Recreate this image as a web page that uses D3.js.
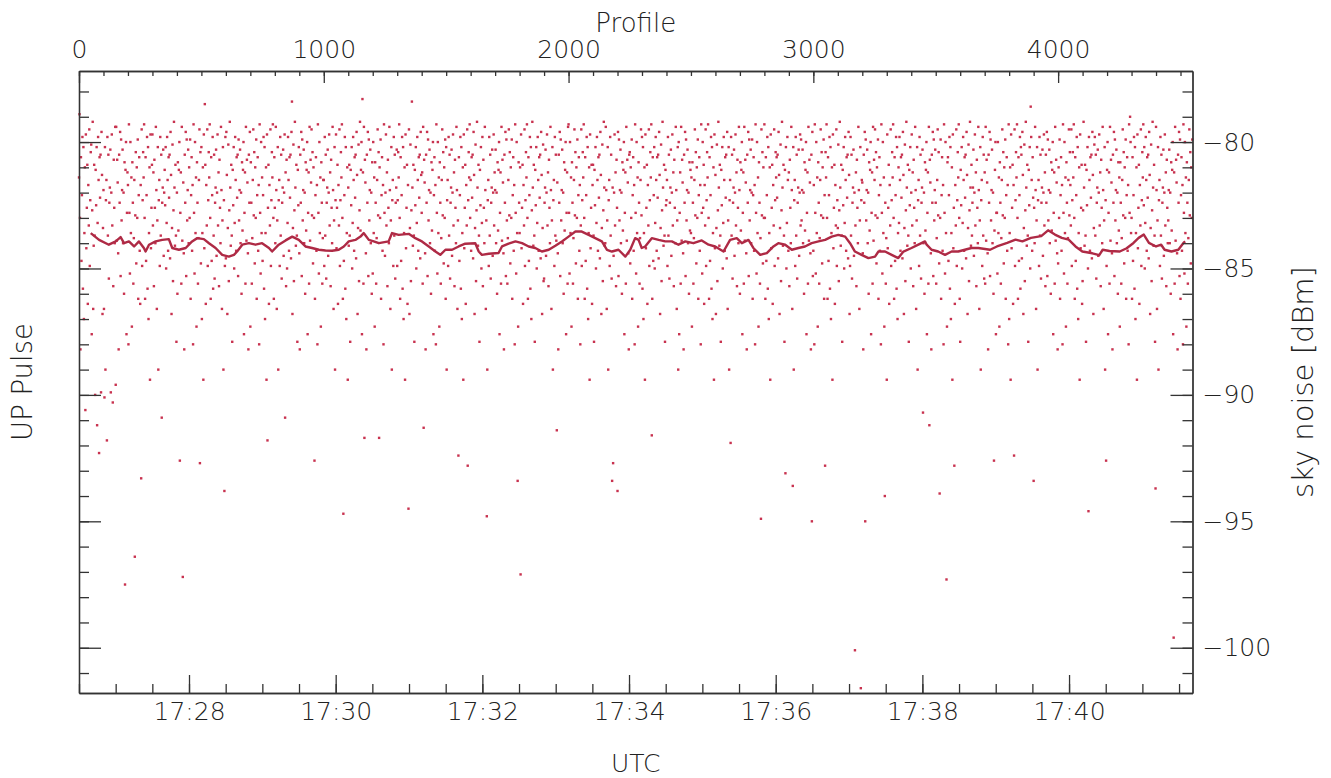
<!DOCTYPE html>
<html>
<head>
<meta charset="utf-8">
<script src="https://cdn.jsdelivr.net/npm/d3@7"></script>
<style>
  html, body { margin: 0; padding: 0; background: #fff; }
  svg text { font-family: "DejaVu Sans", "Liberation Sans", sans-serif; font-weight: 200; fill: #222; }
</style>
</head>
<body>
<svg id="chart" width="1331" height="778"></svg>
<script>
// ---------------- data ----------------
const profileStep = 2; // one sample shown every 2 profiles
const skyNoise = [
-81.4,-78.9,-83.0,-88.2,-80.6,-84.7,-82.1,-79.8,-85.8,-80.2,-87.0,-83.6,-81.0,-90.6,-79.7,-84.2,-82.6,-80.9,-86.4,-81.7,-83.3,-79.5,-84.9,-82.3,-80.4,
-80.1,-87.6,-82.7,-79.2,-86.6,-84.1,-80.9,-83.7,-90.0,-81.1,-82.5,-80.2,-91.2,-83.2,-79.8,-81.5,-92.3,-80.6,-82.2,-80.5,-89.9,-79.6,-81.3,-86.8,-83.4,
-81.9,-86.6,-90.1,-80.2,-89.0,-82.3,-81.5,-91.8,-79.8,-83.7,-80.5,-85.4,-82.4,-81.8,-80.3,-89.9,-82.0,-79.7,-83.3,-90.3,-85.7,-80.7,-82.6,-84.0,-79.4,
-89.6,-79.4,-83.9,-80.7,-81.6,-84.4,-88.2,-80.5,-82.4,-79.6,-85.3,-79.9,-83.1,-81.9,-80.3,-84.0,-82.0,-86.0,-80.8,-97.5,-81.1,-80.0,-87.6,-82.8,-81.2,
-81.7,-88.0,-79.3,-82.8,-85.2,-80.0,-83.6,-81.4,-87.3,-80.8,-82.4,-85.6,-83.8,-81.5,-96.4,-82.9,-80.4,-84.8,-81.0,-83.0,-79.9,-86.2,-82.1,-80.6,-84.3,
-86.4,-81.7,-93.3,-79.5,-84.9,-82.3,-80.4,-81.4,-79.3,-83.0,-86.2,-80.6,-84.7,-82.1,-79.8,-85.8,-80.2,-87.0,-83.6,-81.0,-89.4,-79.7,-84.2,-82.6,-80.9,
-79.7,-83.3,-81.2,-85.7,-80.7,-82.6,-84.0,-79.4,-81.9,-86.6,-83.1,-80.2,-89.0,-82.3,-81.5,-84.9,-79.8,-83.7,-80.5,-90.9,-82.4,-81.8,-80.3,-84.5,-82.0,
-81.1,-82.5,-80.2,-85.0,-83.2,-79.8,-81.5,-84.3,-80.6,-82.2,-80.5,-84.6,-79.6,-81.3,-86.8,-83.4,-80.1,-85.5,-82.7,-79.2,-81.8,-84.1,-80.9,-83.7,-87.9,
-82.0,-86.0,-80.8,-83.5,-81.1,-80.0,-92.6,-82.8,-81.2,-85.6,-79.4,-83.9,-97.2,-81.6,-84.4,-88.2,-80.5,-82.4,-79.6,-85.3,-79.9,-83.1,-81.9,-80.3,-84.0,
-81.0,-83.0,-79.9,-86.2,-82.1,-80.6,-84.3,-81.7,-88.0,-79.3,-82.8,-85.2,-80.0,-83.6,-81.4,-87.3,-80.8,-82.4,-85.6,-83.8,-81.5,-79.5,-92.7,-80.4,-84.8,
-80.2,-87.0,-83.6,-81.0,-89.4,-79.7,-84.2,-78.5,-80.9,-86.4,-81.7,-83.3,-79.5,-84.9,-82.3,-80.4,-81.4,-79.3,-83.0,-86.2,-80.6,-84.7,-82.1,-79.8,-85.8,
-83.7,-80.5,-85.4,-82.4,-81.8,-80.3,-84.5,-82.0,-79.7,-83.3,-81.2,-85.7,-80.7,-82.6,-84.0,-79.4,-81.9,-86.6,-83.1,-80.2,-89.0,-82.3,-93.8,-84.9,-79.8,
-84.6,-79.6,-81.3,-86.8,-83.4,-80.1,-85.5,-82.7,-79.2,-81.8,-84.1,-80.9,-83.7,-87.9,-81.1,-82.5,-80.2,-85.0,-83.2,-79.8,-81.5,-84.3,-80.6,-82.2,-80.5,
-85.3,-79.9,-83.1,-81.9,-80.3,-84.0,-82.0,-86.0,-80.8,-83.5,-81.1,-80.0,-87.6,-82.8,-81.2,-85.6,-79.4,-83.9,-80.7,-81.6,-84.4,-88.2,-80.5,-82.4,-79.6,
-87.3,-80.8,-82.4,-85.6,-83.8,-81.5,-79.5,-82.9,-80.4,-84.8,-81.0,-83.0,-79.9,-86.2,-82.1,-80.6,-84.3,-81.7,-88.0,-79.3,-82.8,-85.2,-80.0,-83.6,-81.4,
-84.7,-82.1,-79.8,-85.8,-80.2,-87.0,-83.6,-81.0,-89.4,-79.7,-91.8,-82.6,-80.9,-86.4,-81.7,-83.3,-79.5,-84.9,-82.3,-80.4,-81.4,-79.3,-83.0,-86.2,-80.6,
-82.6,-84.0,-79.4,-81.9,-86.6,-83.1,-80.2,-89.0,-82.3,-81.5,-84.9,-79.8,-83.7,-80.5,-85.4,-82.4,-81.8,-80.3,-84.5,-82.0,-79.7,-90.9,-81.2,-85.7,-80.7,
-85.0,-83.2,-79.8,-81.5,-84.3,-80.6,-82.2,-80.5,-84.6,-79.6,-78.4,-86.8,-83.4,-80.1,-85.5,-82.7,-79.2,-81.8,-84.1,-80.9,-83.7,-87.9,-81.1,-82.5,-80.2,
-84.4,-88.2,-80.5,-82.4,-79.6,-85.3,-79.9,-83.1,-81.9,-80.3,-84.0,-82.0,-86.0,-80.8,-83.5,-81.1,-80.0,-87.6,-82.8,-81.2,-85.6,-79.4,-83.9,-80.7,-81.6,
-79.5,-82.9,-80.4,-84.8,-81.0,-83.0,-92.6,-86.2,-82.1,-80.6,-84.3,-81.7,-88.0,-79.3,-82.8,-85.2,-80.0,-83.6,-81.4,-87.3,-80.8,-82.4,-85.6,-83.8,-81.5,
-81.5,-84.9,-79.8,-83.7,-80.5,-85.4,-82.4,-81.8,-80.3,-84.5,-82.0,-79.7,-83.3,-81.2,-85.7,-80.7,-82.6,-84.0,-79.4,-81.9,-86.6,-83.1,-80.2,-89.0,-82.3,
-79.7,-84.2,-82.6,-80.9,-86.4,-81.7,-83.3,-79.5,-84.9,-82.3,-80.4,-81.4,-79.3,-83.0,-86.2,-94.7,-84.7,-82.1,-79.8,-85.8,-80.2,-87.0,-83.6,-81.0,-89.4,
-81.8,-84.1,-80.9,-83.7,-87.9,-81.1,-82.5,-80.2,-85.0,-83.2,-79.8,-81.5,-84.3,-80.6,-82.2,-80.5,-84.6,-79.6,-81.3,-86.8,-83.4,-80.1,-85.5,-82.7,-79.2,
-83.5,-81.1,-80.0,-87.6,-78.3,-81.2,-85.6,-79.4,-91.7,-80.7,-81.6,-84.4,-88.2,-80.5,-82.4,-79.6,-85.3,-79.9,-83.1,-81.9,-80.3,-84.0,-82.0,-86.0,-80.8,
-85.2,-80.0,-83.6,-81.4,-87.3,-80.8,-82.4,-85.6,-83.8,-81.5,-79.5,-82.9,-80.4,-91.7,-81.0,-83.0,-79.9,-86.2,-82.1,-80.6,-84.3,-81.7,-88.0,-79.3,-82.8,
-84.5,-82.0,-79.7,-83.3,-81.2,-85.7,-80.7,-82.6,-84.0,-79.4,-81.9,-86.6,-83.1,-80.2,-89.0,-82.3,-81.5,-84.9,-79.8,-83.7,-80.5,-85.4,-82.4,-81.8,-80.3,
-84.9,-82.3,-80.4,-81.4,-79.3,-83.0,-86.2,-80.6,-84.7,-82.1,-79.8,-85.8,-80.2,-87.0,-83.6,-81.0,-89.4,-79.7,-84.2,-82.6,-80.9,-86.4,-81.7,-94.5,-79.5,
-86.8,-83.4,-80.1,-85.5,-82.7,-78.4,-81.8,-84.1,-80.9,-83.7,-87.9,-81.1,-82.5,-80.2,-85.0,-83.2,-79.8,-81.5,-84.3,-80.6,-82.2,-80.5,-84.6,-79.6,-81.3,
-82.8,-81.2,-85.6,-79.4,-91.3,-80.7,-81.6,-84.4,-88.2,-80.5,-82.4,-79.6,-85.3,-79.9,-83.1,-81.9,-80.3,-84.0,-82.0,-86.0,-80.8,-83.5,-81.1,-80.0,-87.6,
-82.1,-80.6,-84.3,-81.7,-88.0,-79.3,-82.8,-85.2,-80.0,-83.6,-81.4,-87.3,-80.8,-82.4,-85.6,-83.8,-81.5,-79.5,-82.9,-80.4,-84.8,-81.0,-83.0,-79.9,-86.2,
-80.2,-89.0,-82.3,-81.5,-84.9,-79.8,-83.7,-80.5,-85.4,-82.4,-81.8,-80.3,-84.5,-82.0,-79.7,-83.3,-81.2,-85.7,-80.7,-82.6,-84.0,-79.4,-81.9,-86.6,-83.1,
-92.4,-80.6,-84.7,-82.1,-79.8,-85.8,-80.2,-87.0,-83.6,-81.0,-89.4,-79.7,-84.2,-82.6,-80.9,-86.4,-81.7,-83.3,-79.5,-92.8,-82.3,-80.4,-81.4,-79.3,-83.0,
-81.5,-84.3,-80.6,-82.2,-80.5,-84.6,-79.6,-81.3,-86.8,-83.4,-80.1,-85.5,-82.7,-79.2,-81.8,-84.1,-80.9,-83.7,-87.9,-81.1,-82.5,-80.2,-85.0,-83.2,-79.8,
-85.7,-80.7,-82.6,-84.0,-79.4,-81.9,-86.6,-83.1,-94.8,-89.0,-82.3,-81.5,-84.9,-79.8,-83.7,-80.5,-85.4,-82.4,-81.8,-80.3,-84.5,-82.0,-79.7,-83.3,-81.2,
-81.9,-80.3,-84.0,-82.0,-86.0,-80.8,-83.5,-81.1,-80.0,-87.6,-82.8,-81.2,-85.6,-79.4,-83.9,-80.7,-81.6,-84.4,-88.2,-80.5,-82.4,-79.6,-85.3,-79.9,-83.1,
-85.6,-83.8,-81.5,-79.5,-82.9,-80.4,-84.8,-81.0,-83.0,-79.9,-86.2,-82.1,-80.6,-84.3,-81.7,-88.0,-79.3,-82.8,-85.2,-80.0,-83.6,-93.4,-87.3,-80.8,-82.4,
-83.6,-81.0,-97.1,-79.7,-84.2,-82.6,-80.9,-86.4,-81.7,-83.3,-79.5,-84.9,-82.3,-80.4,-81.4,-79.3,-83.0,-86.2,-80.6,-84.7,-82.1,-79.8,-85.8,-80.2,-87.0,
-82.7,-79.2,-81.8,-84.1,-80.9,-83.7,-87.9,-81.1,-82.5,-80.2,-85.0,-83.2,-79.8,-81.5,-84.3,-80.6,-82.2,-80.5,-84.6,-79.6,-81.3,-86.8,-83.4,-80.1,-85.5,
-85.4,-82.4,-81.8,-80.3,-84.5,-82.0,-79.7,-83.3,-81.2,-85.7,-80.7,-82.6,-84.0,-79.4,-81.9,-86.6,-83.1,-80.2,-89.0,-82.3,-81.5,-84.9,-79.8,-83.7,-80.5,
-83.9,-91.4,-81.6,-84.4,-88.2,-80.5,-82.4,-79.6,-85.3,-79.9,-83.1,-81.9,-80.3,-84.0,-82.0,-86.0,-80.8,-83.5,-81.1,-80.0,-87.6,-82.8,-81.2,-85.6,-79.4,
-79.3,-82.8,-85.2,-80.0,-83.6,-81.4,-87.3,-80.8,-82.4,-85.6,-83.8,-81.5,-79.5,-82.9,-80.4,-84.8,-81.0,-83.0,-79.9,-86.2,-82.1,-80.6,-84.3,-81.7,-88.0,
-83.3,-79.5,-84.9,-82.3,-80.4,-81.4,-79.3,-83.0,-86.2,-80.6,-84.7,-82.1,-79.8,-85.8,-80.2,-87.0,-83.6,-81.0,-89.4,-79.7,-84.2,-82.6,-80.9,-86.4,-81.7,
-80.9,-83.7,-87.9,-81.1,-82.5,-80.2,-85.0,-83.2,-79.8,-81.5,-84.3,-80.6,-82.2,-80.5,-84.6,-79.6,-81.3,-86.8,-83.4,-80.1,-85.5,-82.7,-79.2,-81.8,-84.1,
-84.0,-79.4,-81.9,-86.6,-83.1,-80.2,-89.0,-82.3,-81.5,-84.9,-79.8,-83.7,-80.5,-85.4,-93.4,-81.8,-92.7,-84.5,-82.0,-79.7,-83.3,-81.2,-85.7,-80.7,-82.6,
-93.8,-79.6,-85.3,-79.9,-83.1,-81.9,-80.3,-84.0,-82.0,-86.0,-80.8,-83.5,-81.1,-80.0,-87.6,-82.8,-81.2,-85.6,-79.4,-83.9,-80.7,-81.6,-84.4,-88.2,-80.5,
-80.4,-84.8,-81.0,-83.0,-79.9,-86.2,-82.1,-80.6,-84.3,-81.7,-88.0,-79.3,-82.8,-85.2,-80.0,-83.6,-81.4,-87.3,-80.8,-82.4,-85.6,-83.8,-81.5,-79.5,-82.9,
-79.8,-85.8,-80.2,-87.0,-83.6,-81.0,-89.4,-79.7,-84.2,-82.6,-80.9,-86.4,-81.7,-83.3,-79.5,-84.9,-82.3,-80.4,-81.4,-79.3,-91.6,-86.2,-80.6,-84.7,-82.1,
-80.2,-85.0,-83.2,-79.8,-81.5,-84.3,-80.6,-82.2,-80.5,-84.6,-79.6,-81.3,-86.8,-83.4,-80.1,-85.5,-82.7,-79.2,-81.8,-84.1,-80.9,-83.7,-87.9,-81.1,-82.5,
-82.3,-81.5,-84.9,-79.8,-83.7,-80.5,-85.4,-82.4,-81.8,-80.3,-84.5,-82.0,-79.7,-83.3,-81.2,-85.7,-80.7,-82.6,-84.0,-79.4,-81.9,-86.6,-83.1,-80.2,-89.0,
-80.0,-87.6,-82.8,-81.2,-85.6,-79.4,-83.9,-80.7,-81.6,-84.4,-88.2,-80.5,-82.4,-79.6,-85.3,-79.9,-83.1,-81.9,-80.3,-84.0,-82.0,-86.0,-80.8,-83.5,-81.1,
-83.6,-81.4,-87.3,-80.8,-82.4,-85.6,-83.8,-81.5,-79.5,-82.9,-80.4,-84.8,-81.0,-83.0,-79.9,-86.2,-82.1,-80.6,-84.3,-81.7,-88.0,-79.3,-82.8,-85.2,-80.0,
-82.6,-80.9,-86.4,-81.7,-83.3,-79.5,-84.9,-82.3,-80.4,-81.4,-79.3,-83.0,-86.2,-80.6,-84.7,-82.1,-79.8,-85.8,-80.2,-87.0,-83.6,-81.0,-89.4,-79.7,-84.2,
-81.3,-86.8,-83.4,-80.1,-85.5,-82.7,-79.2,-81.8,-84.1,-80.9,-83.7,-87.9,-81.1,-82.5,-80.2,-85.0,-83.2,-79.8,-81.5,-84.3,-80.6,-82.2,-80.5,-84.6,-79.6,
-86.6,-83.1,-80.2,-89.0,-82.3,-81.5,-91.9,-79.8,-83.7,-80.5,-85.4,-82.4,-81.8,-80.3,-84.5,-82.0,-79.7,-83.3,-81.2,-85.7,-80.7,-82.6,-84.0,-79.4,-81.9,
-86.0,-80.8,-83.5,-81.1,-80.0,-87.6,-82.8,-81.2,-85.6,-79.4,-83.9,-80.7,-81.6,-84.4,-88.2,-80.5,-82.4,-79.6,-85.3,-79.9,-83.1,-81.9,-80.3,-84.0,-82.0,
-79.9,-86.2,-82.1,-80.6,-84.3,-81.7,-88.0,-79.3,-82.8,-85.2,-80.0,-83.6,-81.4,-87.3,-80.8,-82.4,-85.6,-83.8,-94.9,-79.5,-82.9,-80.4,-84.8,-81.0,-83.0,
-79.3,-83.0,-86.2,-80.6,-84.7,-82.1,-79.8,-85.8,-80.2,-87.0,-83.6,-81.0,-89.4,-79.7,-84.2,-82.6,-80.9,-86.4,-81.7,-83.3,-79.5,-84.9,-82.3,-80.4,-81.4,
-80.6,-82.2,-80.5,-84.6,-79.6,-81.3,-86.8,-83.4,-80.1,-85.5,-82.7,-79.2,-81.8,-84.1,-80.9,-83.7,-87.9,-81.1,-93.1,-80.2,-85.0,-83.2,-79.8,-81.5,-84.3,
-81.2,-85.7,-80.7,-82.6,-84.0,-79.4,-81.9,-86.6,-93.6,-80.2,-89.0,-82.3,-81.5,-84.9,-79.8,-83.7,-80.5,-85.4,-82.4,-81.8,-80.3,-84.5,-82.0,-79.7,-83.3,
-79.9,-83.1,-81.9,-80.3,-84.0,-82.0,-86.0,-80.8,-83.5,-81.1,-80.0,-87.6,-82.8,-81.2,-85.6,-79.4,-83.9,-80.7,-81.6,-84.4,-88.2,-80.5,-95.0,-79.6,-85.3,
-84.3,-81.7,-88.0,-79.3,-82.8,-85.2,-80.0,-83.6,-81.4,-87.3,-80.8,-82.4,-85.6,-83.8,-81.5,-79.5,-82.9,-80.4,-84.8,-81.0,-83.0,-79.9,-86.2,-82.1,-92.8,
-80.4,-81.4,-79.3,-83.0,-86.2,-80.6,-84.7,-82.1,-79.8,-85.8,-80.2,-87.0,-83.6,-81.0,-89.4,-79.7,-84.2,-82.6,-80.9,-86.4,-81.7,-83.3,-79.5,-84.9,-82.3,
-83.4,-80.1,-85.5,-82.7,-79.2,-81.8,-84.1,-80.9,-83.7,-87.9,-81.1,-82.5,-80.2,-85.0,-83.2,-79.8,-81.5,-84.3,-80.6,-82.2,-80.5,-84.6,-79.6,-81.3,-86.8,
-84.9,-79.8,-83.7,-80.5,-85.4,-82.4,-81.8,-80.3,-84.5,-82.0,-100.1,-83.3,-81.2,-85.7,-80.7,-82.6,-84.0,-79.4,-81.9,-86.6,-83.1,-80.2,-101.6,-82.3,-81.5,
-81.6,-84.4,-88.2,-80.5,-82.4,-79.6,-95.0,-79.9,-83.1,-81.9,-80.3,-84.0,-82.0,-86.0,-80.8,-83.5,-81.1,-80.0,-87.6,-82.8,-81.2,-85.6,-79.4,-83.9,-80.7,
-81.5,-79.5,-82.9,-80.4,-84.8,-81.0,-83.0,-79.9,-86.2,-82.1,-80.6,-84.3,-81.7,-88.0,-79.3,-82.8,-85.2,-80.0,-83.6,-81.4,-87.3,-94.0,-82.4,-85.6,-83.8,
-89.4,-79.7,-84.2,-82.6,-80.9,-86.4,-81.7,-83.3,-79.5,-84.9,-82.3,-80.4,-81.4,-79.3,-83.0,-86.2,-80.6,-84.7,-82.1,-79.8,-85.8,-80.2,-87.0,-83.6,-81.0,
-83.2,-79.8,-81.5,-84.3,-80.6,-82.2,-80.5,-84.6,-79.6,-81.3,-86.8,-83.4,-80.1,-85.5,-82.7,-79.2,-81.8,-84.1,-80.9,-83.7,-87.9,-81.1,-82.5,-80.2,-85.0,
-82.0,-79.7,-83.3,-81.2,-85.7,-80.7,-82.6,-84.0,-79.4,-81.9,-86.6,-83.1,-80.2,-89.0,-82.3,-81.5,-84.9,-79.8,-83.7,-80.5,-85.4,-82.4,-81.8,-80.3,-90.7,
-84.0,-82.0,-86.0,-80.8,-83.5,-81.1,-80.0,-87.6,-82.8,-81.2,-85.6,-79.4,-91.2,-80.7,-81.6,-84.4,-88.2,-80.5,-82.4,-79.6,-85.3,-79.9,-83.1,-81.9,-80.3,
-82.4,-85.6,-83.8,-81.5,-79.5,-82.9,-80.4,-84.8,-93.9,-83.0,-79.9,-86.2,-82.1,-80.6,-84.3,-81.7,-88.0,-79.3,-82.8,-85.2,-80.0,-83.6,-97.3,-87.3,-80.8,
-80.6,-84.7,-82.1,-79.8,-85.8,-80.2,-87.0,-83.6,-81.0,-89.4,-79.7,-84.2,-82.6,-92.8,-86.4,-81.7,-83.3,-79.5,-84.9,-82.3,-80.4,-81.4,-79.3,-83.0,-86.2,
-87.9,-81.1,-82.5,-80.2,-85.0,-83.2,-79.8,-81.5,-84.3,-80.6,-82.2,-80.5,-84.6,-79.6,-81.3,-86.8,-83.4,-80.1,-85.5,-82.7,-79.2,-81.8,-84.1,-80.9,-83.7,
-82.4,-81.8,-80.3,-84.5,-82.0,-79.7,-83.3,-81.2,-85.7,-80.7,-82.6,-84.0,-79.4,-81.9,-86.6,-83.1,-80.2,-89.0,-82.3,-81.5,-84.9,-79.8,-83.7,-80.5,-85.4,
-81.2,-85.6,-79.4,-83.9,-80.7,-81.6,-84.4,-88.2,-80.5,-82.4,-79.6,-85.3,-79.9,-83.1,-81.9,-80.3,-84.0,-82.0,-86.0,-92.6,-83.5,-81.1,-80.0,-87.6,-82.8,
-82.8,-85.2,-80.0,-83.6,-81.4,-87.3,-80.8,-82.4,-85.6,-83.8,-81.5,-79.5,-82.9,-80.4,-84.8,-81.0,-83.0,-79.9,-86.2,-82.1,-80.6,-84.3,-81.7,-88.0,-79.3,
-87.0,-83.6,-81.0,-89.4,-79.7,-84.2,-82.6,-80.9,-86.4,-81.7,-92.4,-79.5,-84.9,-82.3,-80.4,-81.4,-79.3,-83.0,-86.2,-80.6,-84.7,-82.1,-79.8,-85.8,-80.2,
-80.5,-84.6,-79.6,-81.3,-86.8,-83.4,-80.1,-85.5,-82.7,-79.2,-81.8,-84.1,-80.9,-83.7,-87.9,-81.1,-82.5,-80.2,-85.0,-78.6,-79.8,-81.5,-84.3,-80.6,-82.2,
-93.4,-82.6,-84.0,-79.4,-81.9,-86.6,-83.1,-80.2,-89.0,-82.3,-81.5,-84.9,-79.8,-83.7,-80.5,-85.4,-82.4,-81.8,-80.3,-84.5,-82.0,-79.7,-83.3,-81.2,-85.7,
-80.5,-82.4,-79.6,-85.3,-79.9,-83.1,-81.9,-80.3,-84.0,-82.0,-86.0,-80.8,-83.5,-81.1,-80.0,-87.6,-82.8,-81.2,-85.6,-79.4,-83.9,-80.7,-81.6,-84.4,-88.2,
-84.8,-81.0,-83.0,-79.9,-86.2,-82.1,-80.6,-84.3,-81.7,-88.0,-79.3,-82.8,-85.2,-80.0,-83.6,-81.4,-87.3,-80.8,-82.4,-85.6,-83.8,-81.5,-79.5,-82.9,-80.4,
-81.7,-83.3,-79.5,-84.9,-82.3,-80.4,-81.4,-79.3,-83.0,-86.2,-80.6,-84.7,-82.1,-79.8,-85.8,-80.2,-87.0,-83.6,-81.0,-89.4,-79.7,-84.2,-82.6,-80.9,-86.4,
-85.5,-82.7,-79.2,-81.8,-84.1,-80.9,-83.7,-87.9,-81.1,-82.5,-80.2,-85.0,-94.6,-79.8,-81.5,-84.3,-80.6,-82.2,-80.5,-84.6,-79.6,-81.3,-86.8,-83.4,-80.1,
-79.8,-83.7,-80.5,-85.4,-82.4,-81.8,-80.3,-84.5,-82.0,-79.7,-83.3,-81.2,-85.7,-80.7,-82.6,-84.0,-79.4,-81.9,-86.6,-83.1,-80.2,-89.0,-82.3,-92.6,-84.9,
-81.1,-80.0,-87.6,-82.8,-81.2,-85.6,-79.4,-83.9,-80.7,-81.6,-84.4,-88.2,-80.5,-82.4,-79.6,-85.3,-79.9,-83.1,-81.9,-80.3,-84.0,-82.0,-86.0,-80.8,-83.5,
-81.4,-87.3,-80.8,-82.4,-85.6,-83.8,-81.5,-79.5,-82.9,-80.4,-84.8,-81.0,-83.0,-79.9,-86.2,-82.1,-80.6,-84.3,-81.7,-88.0,-79.3,-82.8,-79.0,-80.0,-83.6,
-83.0,-86.2,-80.6,-84.7,-82.1,-79.8,-85.8,-80.2,-87.0,-83.6,-81.0,-89.4,-79.7,-84.2,-82.6,-80.9,-86.4,-81.7,-83.3,-79.5,-84.9,-82.3,-80.4,-81.4,-79.3,
-82.5,-80.2,-85.0,-83.2,-79.8,-81.5,-84.3,-80.6,-82.2,-80.5,-84.6,-79.6,-81.3,-86.8,-83.4,-80.1,-85.5,-82.7,-79.2,-81.8,-84.1,-80.9,-83.7,-87.9,-93.7,
-79.4,-81.9,-86.6,-83.1,-80.2,-89.0,-82.3,-81.5,-84.9,-79.8,-83.7,-80.5,-85.4,-82.4,-81.8,-80.3,-84.5,-82.0,-79.7,-83.3,-81.2,-85.7,-80.7,-82.6,-84.0,
-83.1,-81.9,-80.3,-84.0,-82.0,-86.0,-80.8,-83.5,-81.1,-80.0,-87.6,-99.6,-81.2,-85.6,-79.4,-83.9,-80.7,-81.6,-84.4,-88.2,-80.5,-82.4,-79.6,-85.3,-79.9,
-86.2,-82.1,-80.6,-84.3,-81.7,-88.0,-79.3,-82.8,-85.2,-80.0,-83.6,-81.4,-87.3,-80.8,-82.4,-85.6,-83.8,-81.5,-79.5,-82.9,-80.4,-84.8,-81.0,-83.0,-79.9
];

// running mean of the sky noise (profile, dBm)
const meanProfile = [48,82,122,150,170,184,204,225,245,265,272,286,313,340,367,381,408,436,462,483,510,531,558,585,612,633,646,667,694,721,748,776,789,816,844,871,898,925,952,980,1007,1034,1061,1082,1102,1129,1150,1163,1184,1204,1225,1265,1279,1306,1347,1374,1401,1429,1456,1476,1497,1524,1551,1578,1619,1633,1646,1674,1714,1728,1755,1783,1810,1837,1864,1891,1919,1946,1973,2000,2028,2054,2082,2109,2136,2157,2177,2204,2232,2252,2272,2286,2299,2313,2340,2368,2395,2422,2449,2477,2510,2544,2572,2599,2633,2660,2687,2708,2735,2755,2783,2810,2837,2857,2885,2912,2939,2966,2993,3021,3048,3075,3102,3130,3150,3170,3197,3225,3252,3266,3293,3320,3347,3368,3401,3429,3456,3463,3483,3510,3538,3565,3592,3619,3646,3674,3722,3750,3792,3826,3854,3889,3931,3959,3987,4015,4043,4071,4099,4140,4168,4182,4210,4252,4280,4308,4329,4350,4371,4400,4421,4435,4463,4491,4512,4519];
const meanNoise = [-83.60,-83.87,-84.06,-83.93,-83.76,-84.00,-83.93,-84.13,-83.93,-84.19,-84.33,-84.06,-83.93,-83.87,-83.84,-84.19,-84.26,-84.19,-83.93,-83.80,-83.84,-84.00,-84.19,-84.46,-84.53,-84.46,-84.33,-84.06,-84.00,-84.06,-84.00,-84.19,-84.33,-84.06,-83.89,-83.74,-83.87,-84.13,-84.19,-84.26,-84.29,-84.30,-84.26,-84.13,-83.93,-83.87,-83.74,-83.60,-83.87,-83.93,-84.00,-83.93,-83.60,-83.67,-83.63,-83.80,-83.93,-84.13,-84.33,-84.46,-84.26,-84.26,-84.13,-84.02,-84.00,-84.33,-84.46,-84.42,-84.39,-84.13,-84.02,-83.93,-84.00,-84.13,-84.19,-84.33,-84.26,-84.10,-83.93,-83.74,-83.54,-83.54,-83.67,-83.80,-83.93,-84.26,-84.33,-84.26,-84.53,-84.26,-83.80,-83.87,-84.19,-84.13,-83.80,-83.87,-83.93,-83.93,-84.06,-83.93,-84.00,-83.89,-84.06,-84.13,-84.33,-83.87,-83.80,-84.00,-83.87,-84.19,-84.46,-84.39,-84.13,-84.00,-84.06,-84.26,-84.19,-84.13,-84.00,-83.93,-83.87,-83.74,-83.67,-83.74,-84.00,-84.33,-84.46,-84.59,-84.53,-84.33,-84.33,-84.46,-84.59,-84.33,-84.19,-84.06,-83.93,-84.06,-84.26,-84.33,-84.46,-84.33,-84.33,-84.26,-84.19,-84.19,-84.26,-84.13,-83.99,-83.86,-83.93,-83.79,-83.72,-83.49,-83.66,-83.79,-83.86,-84.13,-84.33,-84.40,-84.47,-84.26,-84.31,-84.33,-84.20,-83.99,-83.79,-83.66,-83.99,-84.13,-84.06,-84.26,-84.33,-84.26,-83.99,-83.93];

// axes
const profileDomain = [0, 4549];
const timeDomain = ["17:26:30", "17:41:41"];
const noiseDomain = [-101.79, -77.19];
const noiseLabelTicks = [-100, -95, -90, -85, -80];
const profileLabelTicks = [0, 1000, 2000, 3000, 4000];
const titles = { top: "Profile", bottom: "UTC", left: "UP Pulse", right: "sky noise [dBm]" };

// ---------------- drawing ----------------
const L = 79, R = 1192.5, T = 71, B = 693;
const svg = d3.select("#chart");
const toDate = s => { const [h, m, sec] = s.split(":").map(Number); return new Date(Date.UTC(2020, 0, 1, h, m, sec)); };

const xP = d3.scaleLinear().domain(profileDomain).range([L, R]);
const xT = d3.scaleUtc().domain(timeDomain.map(toDate)).range([L, R]);
const y = d3.scaleLinear().domain(noiseDomain).range([B, T]);

const dotColor = "#c8324f", lineColor = "#ae2a45", axisColor = "#333";
const dot = 2.4;

// scatter points
svg.append("g").selectAll("rect").data(skyNoise).join("rect")
  .attr("x", (d, i) => xP(i * profileStep) - dot / 2)
  .attr("y", d => y(d) - dot / 2)
  .attr("width", dot).attr("height", dot)
  .attr("fill", dotColor);

// mean line
const meanData = meanProfile.map((p, i) => [p, meanNoise[i]]);
svg.append("path").datum(meanData)
  .attr("fill", "none").attr("stroke", lineColor).attr("stroke-width", 2.4)
  .attr("stroke-linejoin", "round")
  .attr("d", d3.line().x(d => xP(d[0])).y(d => y(d[1])));

const fmtNum = d3.format("");
function styleAxis(g) {
  g.selectAll("path.domain").attr("stroke", axisColor).attr("stroke-width", 1.3);
  g.selectAll(".tick line").attr("stroke", axisColor).attr("stroke-width", 1.3);
  g.selectAll(".tick text").attr("font-size", 25).attr("font-family", null).attr("fill", "#222");
}

// bottom time axis
const minorTimes = d3.utcSecond.every(30).range(xT.domain()[0], xT.domain()[1]);
svg.append("g").attr("transform", `translate(0,${B})`)
  .call(d3.axisBottom(xT).tickValues(minorTimes).tickSizeInner(-9).tickSizeOuter(0).tickFormat(""))
  .call(styleAxis);
svg.append("g").attr("transform", `translate(0,${B})`)
  .call(d3.axisBottom(xT).ticks(d3.utcMinute.every(2)).tickSizeInner(-18).tickSizeOuter(0)
        .tickPadding(9).tickFormat(d3.utcFormat("%H:%M")))
  .call(styleAxis);

// top profile axis
svg.append("g").attr("transform", `translate(0,${T})`)
  .call(d3.axisTop(xP).tickValues(d3.range(0, profileDomain[1], 100)).tickSizeInner(-5).tickSizeOuter(0).tickFormat(""))
  .call(styleAxis);
svg.append("g").attr("transform", `translate(0,${T})`)
  .call(d3.axisTop(xP).tickValues(profileLabelTicks).tickSizeInner(-12).tickSizeOuter(0).tickPadding(13).tickFormat(fmtNum))
  .call(styleAxis);

// right noise axis
const minorNoise = d3.range(-101, -77, 1);
svg.append("g").attr("transform", `translate(${R},0)`)
  .call(d3.axisRight(y).tickValues(minorNoise).tickSizeInner(-10).tickSizeOuter(0).tickFormat(""))
  .call(styleAxis);
svg.append("g").attr("transform", `translate(${R},0)`)
  .call(d3.axisRight(y).tickValues(noiseLabelTicks).tickSizeInner(-22).tickSizeOuter(0).tickPadding(10))
  .call(styleAxis);

// left axis (ticks only)
svg.append("g").attr("transform", `translate(${L},0)`)
  .call(d3.axisLeft(y).tickValues(minorNoise).tickSizeInner(-10).tickSizeOuter(0).tickFormat(""))
  .call(styleAxis);
svg.append("g").attr("transform", `translate(${L},0)`)
  .call(d3.axisLeft(y).tickValues(noiseLabelTicks).tickSizeInner(-22).tickSizeOuter(0).tickFormat(""))
  .call(styleAxis);

// titles
svg.append("text").attr("x", (L + R) / 2).attr("y", 32).attr("text-anchor", "middle")
  .attr("font-size", 26).text(titles.top);
svg.append("text").attr("x", (L + R) / 2).attr("y", 772).attr("text-anchor", "middle")
  .attr("font-size", 25).text(titles.bottom);
svg.append("text").attr("transform", `translate(32,${(T + B) / 2}) rotate(-90)`).attr("text-anchor", "middle")
  .attr("font-size", 27.5).text(titles.left);
svg.append("text").attr("transform", `translate(1313,${(T + B) / 2}) rotate(-90)`).attr("text-anchor", "middle")
  .attr("font-size", 29).text(titles.right);
</script>
</body>
</html>
